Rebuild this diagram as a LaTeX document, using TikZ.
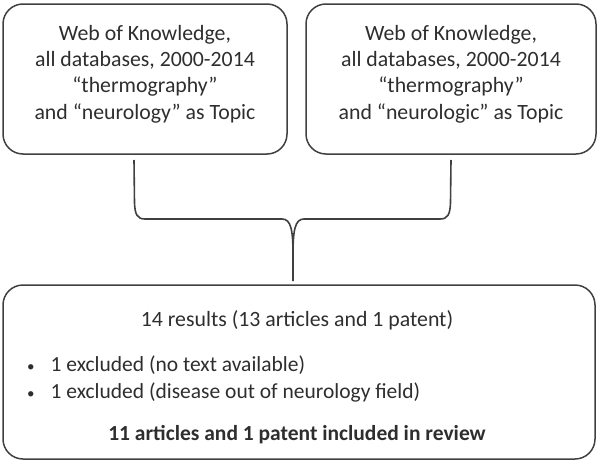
\documentclass[tikz,border=0pt]{standalone}
\usepackage{fontspec}
\setmainfont{Carlito}
\begin{document}
\begin{tikzpicture}[x=1pt,y=-1pt,
  box/.style={draw=black!75,line width=1.5pt,rounded corners=20pt,inner sep=0pt},
  txt/.style={text=black!82,align=center,inner sep=0pt,font=\fontsize{21.8}{26.3}\selectfont},
  brace/.style={draw=black!75,line width=1.6pt}]
\useasboundingbox (0,0) rectangle (600,474);
\node[box,minimum width=284pt,minimum height=150pt] (L) at (145,79) {};
\node[box,minimum width=290pt,minimum height=150pt] (R) at (451,79) {};
\node[box,minimum width=592pt,minimum height=174pt] (B) at (299,372) {};
\node[txt] (Lt) at (145,74) {Web of Knowledge,\\all databases, 2000-2014\\“thermography”\\and “neurology” as Topic};
\node[txt] (Rt) at (451,74) {Web of Knowledge,\\all databases, 2000-2014\\“thermography”\\and “neurologic” as Topic};
\node[txt] (B1) at (297,320) {14 results (13 articles and 1 patent)};
\node[txt,align=left,anchor=west,font=\fontsize{21.5}{26.5}\selectfont] (B2) at (27,379) {{\fontsize{15}{15}\selectfont•}\hspace{16pt}1 excluded (no text available)\\{\fontsize{15}{15}\selectfont•}\hspace{16pt}1 excluded (disease out of neurology field)};
\node[txt,font=\fontsize{21.5}{26}\selectfont\bfseries] (B3) at (297,435) {11 articles and 1 patent included in review};
\coordinate (bl) at (134,160);
\coordinate (br) at (451,160);
\coordinate (bc) at (293,281);
\draw[brace] (bl) -- (134.5,203) .. controls (135,214) and (137,219) .. (145,219) -- (282,219)
  .. controls (291,219) and (293,230) .. (293,255) -- (bc);
\draw[brace] (br) -- (450.5,203) .. controls (450,214) and (448,219) .. (440,219) -- (304,219)
  .. controls (295,219) and (293,230) .. (293,255);
\end{tikzpicture}
\end{document}
